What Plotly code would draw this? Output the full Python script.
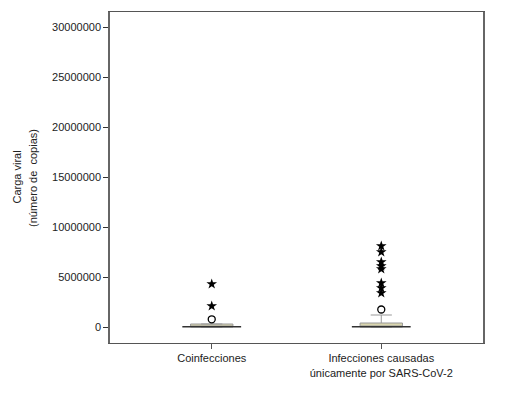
import plotly.graph_objects as go

categories = ["Coinfecciones", "Infecciones causadas<br>únicamente por SARS-CoV-2"]
q1 = [0, 0]
median = [20000, 30000]
q3 = [300000, 400000]
lowerfence = [0, 0]
upperfence = [300000, 1200000]

# mild outliers (open circles)
out_cat = [categories[0], categories[1]]
out_val = [770000, 1750000]

# extreme outliers (stars)
ext_cat = [categories[0]] * 2 + [categories[1]] * 8
ext_val = [4300000, 2100000,
           8100000, 7500000, 6500000, 6100000, 5800000, 4400000, 3900000, 3400000]

yticks = [0, 5000000, 10000000, 15000000, 20000000, 25000000, 30000000]
ytitle_lines = ["Carga viral", "(número de  copias)"]

font = dict(family="Liberation Sans, Arial, sans-serif", size=11, color="#222")

fig = go.Figure()
fig.add_trace(go.Box(
    x=categories, q1=q1, median=median, q3=q3,
    lowerfence=lowerfence, upperfence=upperfence,
    fillcolor="#d9d5ad", line=dict(color="#999999", width=1),
    width=0.25, whiskerwidth=0.5, boxpoints=False, showlegend=False,
    hoverinfo="skip",
))
fig.add_trace(go.Scatter(
    x=categories, y=median, mode="markers",
    marker=dict(symbol="line-ew", size=42, line=dict(color="#333", width=1.5)),
    showlegend=False, hoverinfo="skip",
))
fig.add_trace(go.Scatter(
    x=out_cat, y=out_val, mode="markers",
    marker=dict(symbol="circle-open", size=7, color="black", line=dict(width=1.3)),
    showlegend=False,
))
fig.add_trace(go.Scatter(
    x=ext_cat, y=ext_val, mode="markers",
    marker=dict(symbol="star", size=8, color="black"),
    showlegend=False,
))

fig.update_layout(
    width=497, height=386,
    margin=dict(l=102, r=22, t=4, b=51),
    paper_bgcolor="white", plot_bgcolor="white",
    font=font,
    xaxis=dict(
        type="category", range=[-0.6, 1.6],
        showline=True, linecolor="#555", linewidth=1, mirror=True,
        ticks="outside", ticklen=5, tickcolor="#555", showgrid=False,
        tickfont=font,
    ),
    yaxis=dict(
        range=[-1600000, 31500000], tickvals=yticks, tickformat="d",
        showline=True, linecolor="#666", linewidth=1.5, mirror=True,
        ticks="outside", ticklen=5, tickcolor="#333", showgrid=False,
        zeroline=False, tickfont=font,
    ),
    annotations=[
        dict(text=ytitle_lines[0], xref="paper", yref="paper",
             x=-0.252, y=0.5, xanchor="center", yanchor="middle", textangle=-90,
             showarrow=False, font=font),
        dict(text=ytitle_lines[1], xref="paper", yref="paper",
             x=-0.208, y=0.5, xanchor="center", yanchor="middle", textangle=-90,
             showarrow=False, font=font),
    ],
)

fig.write_html("out.html")
